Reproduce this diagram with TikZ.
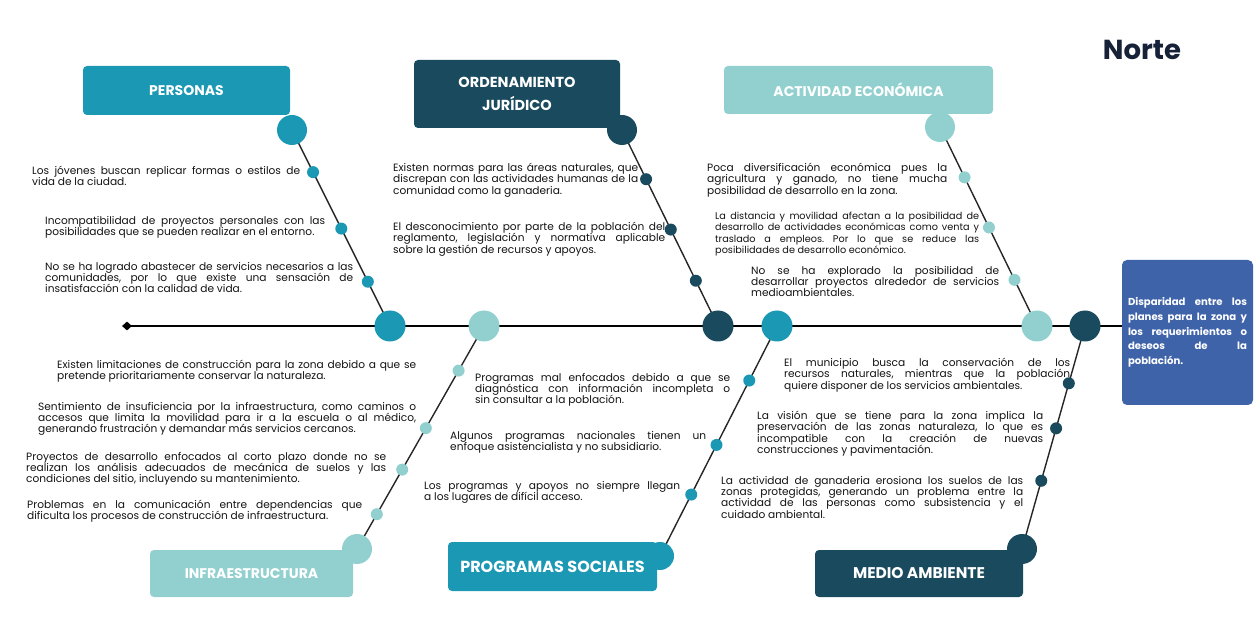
\documentclass[tikz,border=0pt]{standalone}
\usepackage{fontspec}
\setmainfont{Poppins}
\usetikzlibrary{shapes.geometric,calc}
\pgfdeclarelayer{bg}
\pgfsetlayers{bg,main}
\definecolor{cteal}{HTML}{1B98B3}
\definecolor{cdark}{HTML}{1A4A5E}
\definecolor{clight}{HTML}{92D0D0}
\definecolor{cblue}{HTML}{3F63A9}
\definecolor{ctext}{HTML}{141414}
\definecolor{cnorte}{HTML}{172239}
\hyphenpenalty=10000
\exhyphenpenalty=10000
\tolerance=9999
\frenchspacing
\begin{document}
\begin{tikzpicture}[x=1pt,y=-1pt,
 catbox/.style={rounded corners=4pt, text=white, font=\fontsize{14}{22}\selectfont\bfseries, align=center, inner sep=0pt},
 bigdot/.style={circle, minimum size=31pt, inner sep=0pt},
 smalldot/.style={circle, minimum size=12pt, inner sep=0pt},
 cause/.style={anchor=north west, inner sep=0pt, align=justify, text=ctext, font=\fontsize{10.6}{11.3}\selectfont},
 bone/.style={line width=1.4pt, draw=black!85},
 spine/.style={line width=2.4pt, draw=black},
]
\begin{pgfonlayer}{bg}
\path[fill=white] (0,0) rectangle (1254,628);
\end{pgfonlayer}
\path[use as bounding box] (0,0) rectangle (1254,628);

% category boxes
\node[catbox, fill=cteal, minimum width=207pt, minimum height=49pt] (pers) at (186.5,90.5) {PERSONAS};
\node[catbox, fill=cdark, minimum width=206pt, minimum height=68pt, font=\fontsize{14.5}{23}\selectfont\bfseries] (ord) at (517,94) {ORDENAMIENTO\\JURÍDICO};
\node[catbox, fill=clight, minimum width=269pt, minimum height=48pt] (act) at (858.5,90) {ACTIVIDAD ECONÓMICA};
\node[catbox, fill=clight, minimum width=203pt, minimum height=47pt] (infra) at (251.5,573.5) {INFRAESTRUCTURA};
\node[catbox, fill=cteal, minimum width=209pt, minimum height=49pt, font=\fontsize{16}{20}\selectfont\bfseries] (prog) at (552.5,566.5) {PROGRAMAS SOCIALES};
\node[catbox, fill=cdark, minimum width=208pt, minimum height=47pt, font=\fontsize{15.5}{20}\selectfont\bfseries] (medio) at (919,573.5) {MEDIO AMBIENTE};

% head
\node[fill=cblue, rounded corners=5pt, minimum width=131pt, minimum height=145pt, text width=119pt, align=justify, inner sep=0pt, text=white, font=\fontsize{10.1}{14.7}\selectfont\bfseries] (head) at (1187.5,332.5) {Disparidad entre los\linebreak planes para la zona y\linebreak los requerimientos o\linebreak deseos de la\linebreak población.};

\node[font=\fontsize{27.5}{32}\selectfont\bfseries, text=cnorte, inner sep=0pt] (norte) at (1142,50) {Norte};

% tail
\node[diamond, fill=black, minimum width=10pt, minimum height=9pt, inner sep=0pt] (tail) at (127,326) {};

% big circles on boxes
\node[bigdot, fill=cteal, minimum size=30pt] (persB) at (292,130) {};
\node[bigdot, fill=cdark, minimum size=30pt] (ordB) at (622,130) {};
\node[bigdot, fill=clight, minimum size=30pt] (actB) at (940,127) {};
\node[bigdot, fill=clight, minimum size=30pt] (infraB) at (357,549) {};
\node[bigdot, fill=cteal, minimum size=28pt] (progB) at (660,556) {};
\node[bigdot, fill=cdark, minimum size=30pt] (medioB) at (1022,549) {};

% big circles on spine
\node[bigdot, fill=cteal] (persS) at (390,326) {};
\node[bigdot, fill=clight] (infraS) at (484,326) {};
\node[bigdot, fill=cdark] (ordS) at (718,326) {};
\node[bigdot, fill=cteal] (progS) at (777,326) {};
\node[bigdot, fill=clight] (actS) at (1037,326) {};
\node[bigdot, fill=cdark] (medioS) at (1085,326) {};

% small dots
\node[smalldot, fill=cteal] (p1) at ($(persB)!0.215!(persS)$) {};
\node[smalldot, fill=cteal] (p2) at ($(persB)!0.503!(persS)$) {};
\node[smalldot, fill=cteal] (p3) at ($(persB)!0.774!(persS)$) {};
\node[smalldot, fill=cdark] (o1) at ($(ordB)!0.251!(ordS)$) {};
\node[smalldot, fill=cdark] (o2) at ($(ordB)!0.508!(ordS)$) {};
\node[smalldot, fill=cdark] (o3) at ($(ordB)!0.769!(ordS)$) {};
\node[smalldot, fill=clight] (a1) at ($(actB)!0.253!(actS)$) {};
\node[smalldot, fill=clight] (a2) at ($(actB)!0.505!(actS)$) {};
\node[smalldot, fill=clight] (a3) at ($(actB)!0.768!(actS)$) {};
\node[smalldot, fill=clight] (i1) at ($(infraS)!0.2!(infraB)$) {};
\node[smalldot, fill=clight] (i2) at ($(infraS)!0.458!(infraB)$) {};
\node[smalldot, fill=clight] (i3) at ($(infraS)!0.644!(infraB)$) {};
\node[smalldot, fill=clight] (i4) at ($(infraS)!0.844!(infraB)$) {};
\node[smalldot, fill=cteal] (g1) at ($(progS)!0.237!(progB)$) {};
\node[smalldot, fill=cteal] (g2) at ($(progS)!0.517!(progB)$) {};
\node[smalldot, fill=cteal] (g3) at ($(progS)!0.733!(progB)$) {};
\node[smalldot, fill=cdark] (m1) at ($(medioS)!0.257!(medioB)$) {};
\node[smalldot, fill=cdark] (m2) at ($(medioS)!0.459!(medioB)$) {};
\node[smalldot, fill=cdark] (m3) at ($(medioS)!0.694!(medioB)$) {};

% lines behind
\begin{pgfonlayer}{bg}
\draw[spine] (tail.center) -- (tail.center -| head.west);
\draw[bone] (persB.center) -- (persS.center);
\draw[bone] (ordB.center) -- (ordS.center);
\draw[bone] (actB.center) -- (actS.center);
\draw[bone] (infraS.center) -- (infraB.center);
\draw[bone] (progS.center) -- (progB.center);
\draw[bone] (medioS.center) -- (medioB.center);
\end{pgfonlayer}

% cause texts
\node[cause, text width=268pt] (tp1) at (32,166) {Los jóvenes buscan replicar formas o estilos de\linebreak vida de la ciudad.};
\node[cause, text width=280pt] (tp2) at (45,216) {Incompatibilidad de proyectos personales con las\linebreak posibilidades que se pueden realizar en el entorno.};
\node[cause, text width=308pt] (tp3) at (45,262) {No se ha logrado abastecer de servicios necesarios a las\linebreak comunidades, por lo que existe una sensación de\linebreak insatisfacción con la calidad de vida.};

\node[cause, text width=245pt] (to1) at (393,163) {Existen normas para las áreas naturales, que\linebreak discrepan con las actividades humanas de la\linebreak comunidad como la ganaderia.};
\node[cause, text width=272pt] (to2) at (393,222) {El desconocimiento por parte de la población del\linebreak reglamento, legislación y normativa aplicable\linebreak sobre la gestión de recursos y apoyos.};

\node[cause, text width=240pt] (ta1) at (707,163) {Poca diversificación económica pues la\linebreak agricultura y ganado, no tiene mucha\linebreak posibilidad de desarrollo en la zona.};
\node[cause, text width=264pt, font=\fontsize{9.7}{11.2}\selectfont] (ta2) at (715,212) {La distancia y movilidad afectan a la posibilidad de\linebreak desarrollo de actividades económicas como venta y\linebreak traslado a empleos. Por lo que se reduce las\linebreak posibilidades de desarrollo económico.};
\node[cause, text width=248pt] (ta3) at (751,266) {No se ha explorado la posibilidad de\linebreak desarrollar proyectos alrededor de servicios\linebreak medioambientales.};

\node[cause, text width=359pt] (ti1) at (57,360) {Existen limitaciones de construcción para la zona debido a que se\linebreak pretende prioritariamente conservar la naturaleza.};
\node[cause, text width=378pt] (ti2) at (38,402) {Sentimiento de insuficiencia por la infraestructura, como caminos o\linebreak accesos que limita la movilidad para ir a la escuela o al médico,\linebreak generando frustración y demandar más servicios cercanos.};
\node[cause, text width=360pt] (ti3) at (26,452) {Proyectos de desarrollo enfocados al corto plazo donde no se\linebreak realizan los análisis adecuados de mecánica de suelos y las\linebreak condiciones del sitio, incluyendo su mantenimiento.};
\node[cause, text width=335pt] (ti4) at (27,500) {Problemas en la comunicación entre dependencias que\linebreak dificulta los procesos de construcción de infraestructura.};

\node[cause, text width=255pt] (tg1) at (475,373) {Programas mal enfocados debido a que se\linebreak diagnóstica con información incompleta o\linebreak sin consultar a la población.};
\node[cause, text width=256pt] (tg2) at (450,431) {Algunos programas nacionales tienen un\linebreak enfoque asistencialista y no subsidiario.};
\node[cause, text width=256pt] (tg3) at (424,481) {Los programas y apoyos no siempre llegan\linebreak a los lugares de difícil acceso.};

\node[cause, text width=286pt] (tm1) at (784,358) {El municipio busca la conservación de los\linebreak recursos naturales, mientras que la población\linebreak quiere disponer de los servicios ambientales.};
\node[cause, text width=286pt] (tm2) at (757,411) {La visión que se tiene para la zona implica la\linebreak preservación de las zonas naturaleza, lo que es\linebreak incompatible con la creación de nuevas\linebreak construcciones y pavimentación.};
\node[cause, text width=302pt] (tm3) at (721,476) {La actividad de ganaderia erosiona los suelos de las\linebreak zonas protegidas, generando un problema entre la\linebreak actividad de las personas como subsistencia y el\linebreak cuidado ambiental.};
\end{tikzpicture}
\end{document}
